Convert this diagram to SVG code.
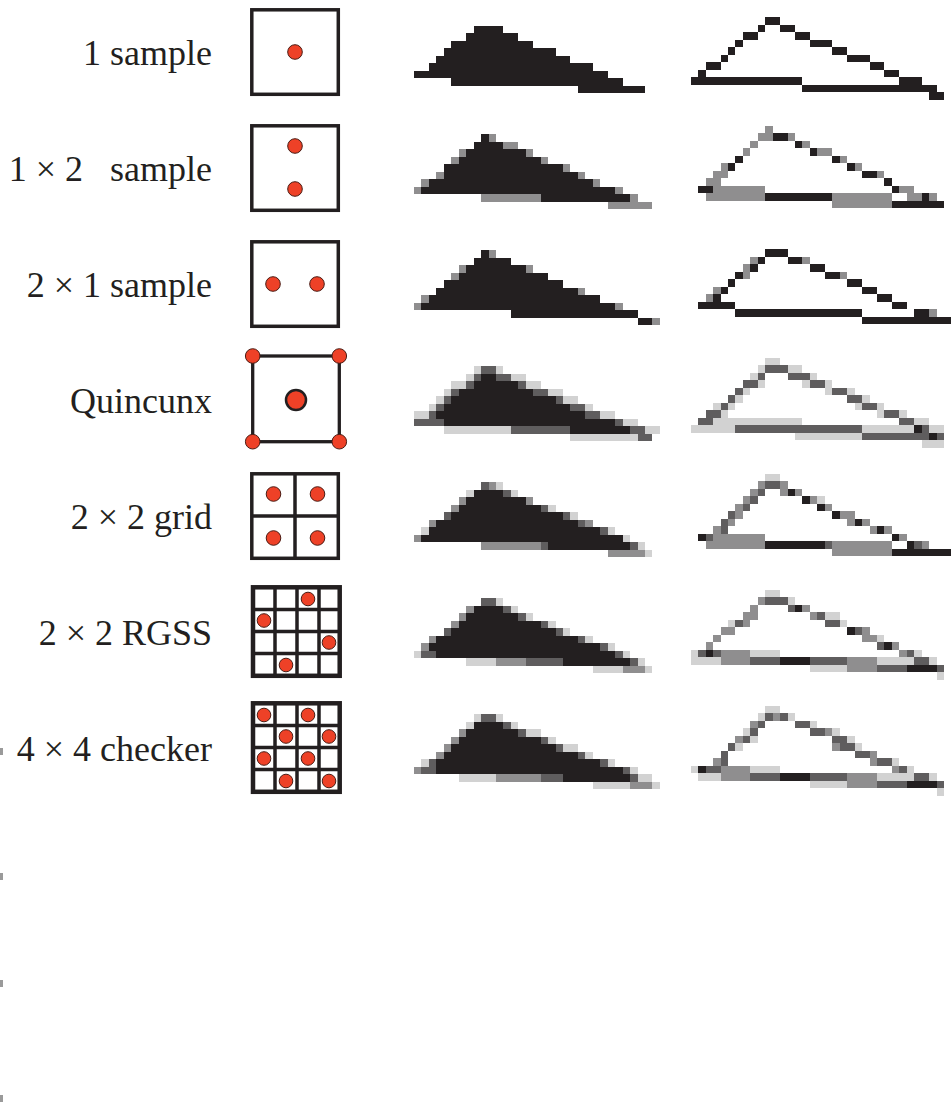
<svg xmlns="http://www.w3.org/2000/svg" width="952" height="1110" viewBox="0 0 952 1110">
<style>
.lbl{font-family:"Liberation Serif","Times New Roman",serif;font-size:36px;fill:#231f20;text-anchor:end}
.box{fill:#fff;stroke:#231f20;stroke-width:3.5}
.thick{stroke-width:4.5}
.gl{stroke:#231f20;stroke-width:3.5;fill:none}
.dot{fill:#ee4127;stroke:#4a1c14;stroke-width:1}
.B{fill:#231f20}.K{fill:#5f5d5e}.M{fill:#8f8e8f}.L{fill:#d2d2d2}
.px{shape-rendering:crispEdges}
.tick{fill:#9a9a9a}
</style>
<rect width="952" height="1110" fill="#fff"/>

<g id="row1">
<text class="lbl" x="212" y="65">1 sample</text>
<rect class="box" x="251.8" y="9.8" width="86.5" height="84.5"/>
<circle class="dot" cx="295" cy="52" r="7.3"/>
<g class="px" transform="translate(414 25.7) scale(7.45 7.5)">
<path class="B" d="M8 0h4v1h-4zM7 1h7v1h-7zM5 2h11v1h-11zM4 3h15v1h-15zM3 4h18v1h-18zM2 5h22v1h-22zM0 6h26v1h-26zM5 7h23v1h-23zM22 8h9v1h-9z"/>
</g>
<g class="px" transform="translate(690.7 17.3) scale(7.45 7.5)">
<path class="B" d="M10 0h2v1h-2zM9 1h1v1h-1zM12 1h2v1h-2zM7 2h2v1h-2zM14 2h2v1h-2zM6 3h1v1h-1zM16 3h3v1h-3zM5 4h1v1h-1zM19 4h2v1h-2zM4 5h1v1h-1zM21 5h3v1h-3zM2 6h2v1h-2zM24 6h2v1h-2zM1 7h1v1h-1zM26 7h2v1h-2zM0 8h15v1h-15zM28 8h3v1h-3zM15 9h18v1h-18zM32 10h2v1h-2z"/>
</g>
</g>

<g id="row2">
<text class="lbl" x="212" y="181" xml:space="preserve">1 × 2   sample</text>
<rect class="box" x="251.8" y="125.8" width="86.5" height="84.5"/>
<circle class="dot" cx="295" cy="146" r="7.3"/>
<circle class="dot" cx="295" cy="189" r="7.3"/>
<g class="px" transform="translate(414 141.7) scale(7.45 7.5)">
<path class="B" d="M9 -1h1v1h-1zM8 0h4v1h-4zM7 1h8v1h-8zM6 2h11v1h-11zM4 3h16v1h-16zM4 4h18v1h-18zM2 5h22v1h-22zM1 6h26v1h-26zM17 7h12v1h-12z"/>
<path class="M" d="M10 -1h1v1h-1zM12 0h2v1h-2zM6 1h1v1h-1zM15 1h1v1h-1zM5 2h1v1h-1zM17 2h1v1h-1zM20 3h1v1h-1zM3 4h1v1h-1zM22 4h1v1h-1zM1 5h1v1h-1zM24 5h1v1h-1zM0 6h1v1h-1zM27 6h1v1h-1zM9 7h8v1h-8zM29 7h1v1h-1zM26 8h6v1h-6z"/>
</g>
<g class="px" transform="translate(690.7 133.3) scale(7.45 7.5)">
<path class="B" d="M11 0h2v1h-2zM14 1h1v1h-1zM16 2h1v1h-1zM6 3h1v1h-1zM19 3h1v1h-1zM5 4h1v1h-1zM21 4h1v1h-1zM23 5h2v1h-2zM26 6h1v1h-1zM1 7h2v1h-2zM27 7h1v1h-1zM10 8h9v1h-9zM31 8h1v1h-1zM27 9h7v1h-7z"/>
<path class="M" d="M10 -1h1v1h-1zM9 0h2v1h-2zM13 0h1v1h-1zM8 1h1v1h-1zM15 1h1v1h-1zM7 2h1v1h-1zM17 2h2v1h-2zM20 3h1v1h-1zM4 4h1v1h-1zM22 4h1v1h-1zM3 5h2v1h-2zM25 5h1v1h-1zM2 6h2v1h-2zM3 7h7v1h-7zM28 7h2v1h-2zM2 8h8v1h-8zM19 8h8v1h-8zM29 8h2v1h-2zM32 8h1v1h-1zM19 9h8v1h-8z"/>
</g>
</g>

<g id="row3">
<text class="lbl" x="212" y="297">2 × 1 sample</text>
<rect class="box" x="251.8" y="241.8" width="86.5" height="84.5"/>
<circle class="dot" cx="273" cy="284" r="7.3"/>
<circle class="dot" cx="317" cy="284" r="7.3"/>
<g class="px" transform="translate(414 257.7) scale(7.45 7.5)">
<path class="B" d="M9 -1h1v1h-1zM8 0h5v1h-5zM7 1h8v1h-8zM6 2h12v1h-12zM4 3h16v1h-16zM3 4h19v1h-19zM2 5h23v1h-23zM1 6h26v1h-26zM13 7h17v1h-17zM30 8h2v1h-2z"/>
<path class="M" d="M10 -1h1v1h-1zM6 1h1v1h-1zM15 1h1v1h-1zM5 2h1v1h-1zM22 4h1v1h-1zM1 5h1v1h-1zM0 6h1v1h-1zM27 6h1v1h-1zM32 8h1v1h-1z"/>
</g>
<g class="px" transform="translate(690.7 249.3) scale(7.45 7.5)">
<path class="B" d="M10 0h3v1h-3zM9 1h1v1h-1zM13 1h2v1h-2zM8 2h1v1h-1zM16 2h2v1h-2zM6 3h1v1h-1zM18 3h2v1h-2zM5 4h1v1h-1zM21 4h2v1h-2zM4 5h1v1h-1zM23 5h2v1h-2zM3 6h1v1h-1zM25 6h2v1h-2zM1 7h5v1h-5zM27 7h2v1h-2zM6 8h17v1h-17zM30 8h2v1h-2zM23 9h12v1h-12z"/>
<path class="M" d="M8 1h1v1h-1zM15 1h1v1h-1zM7 2h1v1h-1zM7 3h1v1h-1zM20 3h1v1h-1zM3 5h1v1h-1zM2 6h1v1h-1zM32 8h1v1h-1z"/>
</g>
</g>

<g id="row4">
<text class="lbl" x="212" y="413">Quincunx</text>
<rect class="box" x="252.7" y="356" width="86.6" height="85.7" style="stroke-width:3.3"/>
<circle class="dot" cx="296" cy="400" r="10" style="stroke:#231f20;stroke-width:2.5"/>
<circle class="dot" cx="252.7" cy="356" r="7.3"/>
<circle class="dot" cx="339.3" cy="356" r="7.3"/>
<circle class="dot" cx="252.7" cy="441.7" r="7.3"/>
<circle class="dot" cx="339.3" cy="441.7" r="7.3"/>
<g class="px" transform="translate(414 373.7) scale(7.45 7.5)">
<path class="B" d="M9 0h2v1h-2zM8 1h6v1h-6zM6 2h10v1h-10zM5 3h14v1h-14zM4 4h17v1h-17zM3 5h20v1h-20zM4 6h23v1h-23zM21 7h8v1h-8z"/>
<path class="K" d="M9 -1h2v1h-2zM8 0h1v1h-1zM11 0h2v1h-2zM7 1h1v1h-1zM14 1h1v1h-1zM5 2h1v1h-1zM16 2h2v1h-2zM4 3h1v1h-1zM19 3h1v1h-1zM3 4h1v1h-1zM21 4h2v1h-2zM2 5h1v1h-1zM23 5h2v1h-2zM0 6h4v1h-4zM27 6h1v1h-1zM13 7h8v1h-8zM29 7h2v1h-2zM30 8h2v1h-2z"/>
<path class="L" d="M8 -1h1v1h-1zM11 -1h1v1h-1zM7 0h1v1h-1zM13 0h2v1h-2zM5 1h2v1h-2zM15 1h2v1h-2zM4 2h1v1h-1zM18 2h2v1h-2zM3 3h1v1h-1zM20 3h2v1h-2zM2 4h1v1h-1zM23 4h1v1h-1zM0 5h2v1h-2zM25 5h2v1h-2zM28 6h2v1h-2zM4 7h9v1h-9zM31 7h2v1h-2zM21 8h9v1h-9z"/>
</g>
<g class="px" transform="translate(690.7 365.3) scale(7.45 7.5)">
<path class="K" d="M10 0h3v1h-3zM9 1h1v1h-1zM13 1h3v1h-3zM7 2h2v1h-2zM16 2h2v1h-2zM6 3h1v1h-1zM19 3h2v1h-2zM5 4h1v1h-1zM21 4h2v1h-2zM4 5h1v1h-1zM23 5h2v1h-2zM2 6h2v1h-2zM26 6h2v1h-2zM1 7h2v1h-2zM28 7h2v1h-2zM6 8h17v1h-17zM31 8h1v1h-1zM23 9h9v1h-9zM33 9h1v1h-1z"/>
<path class="B" d="M30 8h1v1h-1zM32 9h1v1h-1z"/>
<path class="L" d="M10 -1h2v1h-2zM9 0h1v1h-1zM13 0h2v1h-2zM8 1h1v1h-1zM16 1h1v1h-1zM9 2h1v1h-1zM15 2h1v1h-1zM18 2h1v1h-1zM7 3h1v1h-1zM18 3h1v1h-1zM21 3h1v1h-1zM6 4h1v1h-1zM23 4h1v1h-1zM3 5h1v1h-1zM5 5h1v1h-1zM22 5h1v1h-1zM25 5h1v1h-1zM4 6h1v1h-1zM25 6h1v1h-1zM28 6h1v1h-1zM3 7h12v1h-12zM30 7h2v1h-2zM0 8h6v1h-6zM23 8h7v1h-7zM32 8h2v1h-2zM14 9h9v1h-9zM31 10h3v1h-3z"/>
</g>
</g>

<g id="row5">
<text class="lbl" x="212" y="529">2 × 2 grid</text>
<rect class="box" x="251.8" y="473.8" width="86.5" height="84.5"/>
<path class="gl" d="M295 474v84M252 516h86"/>
<circle class="dot" cx="273.5" cy="494" r="7.3"/>
<circle class="dot" cx="317.5" cy="494" r="7.3"/>
<circle class="dot" cx="273.5" cy="538" r="7.3"/>
<circle class="dot" cx="317.5" cy="538" r="7.3"/>
<g class="px" transform="translate(414 489.7) scale(7.45 7.5)">
<path class="B" d="M8 0h4v1h-4zM7 1h8v1h-8zM6 2h11v1h-11zM5 3h15v1h-15zM3 4h19v1h-19zM2 5h23v1h-23zM1 6h27v1h-27zM18 7h11v1h-11z"/>
<path class="K" d="M9 -1h1v1h-1zM12 0h1v1h-1zM17 2h1v1h-1zM4 3h1v1h-1zM20 3h1v1h-1zM22 4h1v1h-1zM25 5h1v1h-1zM17 7h1v1h-1zM29 7h1v1h-1z"/>
<path class="M" d="M10 -1h1v1h-1zM6 1h1v1h-1zM15 1h1v1h-1zM5 2h1v1h-1zM2 4h1v1h-1zM23 4h1v1h-1zM0 6h1v1h-1zM9 7h8v1h-8zM26 8h5v1h-5z"/>
<path class="L" d="M11 -1h1v1h-1zM7 0h1v1h-1zM13 0h1v1h-1zM18 2h1v1h-1zM21 3h1v1h-1zM1 5h1v1h-1zM26 5h1v1h-1zM28 6h1v1h-1zM30 7h1v1h-1zM31 8h1v1h-1z"/>
</g>
<g class="px" transform="translate(690.7 481.3) scale(7.45 7.5)">
<path class="L" d="M10 -1h2v1h-2zM17 2h1v1h-1z"/>
<path class="M" d="M9 0h1v1h-1zM12 0h1v1h-1zM8 1h1v1h-1zM12 1h1v1h-1zM14 1h1v1h-1zM7 2h1v1h-1zM16 2h1v1h-1zM6 3h1v1h-1zM18 3h1v1h-1zM6 4h1v1h-1zM20 4h2v1h-2zM5 5h1v1h-1zM21 5h1v1h-1zM23 5h1v1h-1zM3 6h1v1h-1zM24 6h1v1h-1zM26 6h1v1h-1zM3 7h7v1h-7zM28 7h1v1h-1zM2 8h8v1h-8zM19 8h8v1h-8zM31 8h1v1h-1zM19 9h8v1h-8z"/>
<path class="K" d="M10 0h2v1h-2zM9 1h1v1h-1zM8 2h1v1h-1zM7 3h1v1h-1zM5 4h1v1h-1zM4 5h1v1h-1zM4 6h1v1h-1zM2 7h1v1h-1zM18 8h1v1h-1zM30 8h1v1h-1z"/>
<path class="B" d="M13 1h1v1h-1zM15 2h1v1h-1zM17 3h1v1h-1zM19 4h1v1h-1zM22 5h1v1h-1zM25 6h1v1h-1zM1 7h1v1h-1zM27 7h1v1h-1zM10 8h8v1h-8zM29 8h1v1h-1zM27 9h8v1h-8z"/>
</g>
</g>

<g id="row6">
<text class="lbl" x="212" y="645">2 × 2 RGSS</text>
<rect class="box thick" x="253" y="587.3" width="86.7" height="88.5"/>
<path class="gl" d="M275 588v87M297 588v87M319 588v87M254 609.5h85M254 631.5h85M254 653.5h85"/>
<circle class="dot" cx="308" cy="599" r="6.8"/>
<circle class="dot" cx="264" cy="620.5" r="6.8"/>
<circle class="dot" cx="329" cy="642.5" r="6.8"/>
<circle class="dot" cx="286" cy="665" r="6.8"/>
<g class="px" transform="translate(414 605.7) scale(7.45 7.5)">
<path class="B" d="M8 0h4v1h-4zM7 1h7v1h-7zM6 2h11v1h-11zM5 3h14v1h-14zM3 4h19v1h-19zM2 5h23v1h-23zM3 6h24v1h-24zM20 7h9v1h-9z"/>
<path class="K" d="M9 -1h2v1h-2zM12 0h1v1h-1zM14 1h1v1h-1zM17 2h1v1h-1zM4 3h1v1h-1zM19 3h1v1h-1zM22 4h1v1h-1zM25 5h1v1h-1zM1 6h2v1h-2zM27 6h1v1h-1zM15 7h5v1h-5zM29 7h1v1h-1z"/>
<path class="M" d="M7 0h1v1h-1zM6 1h1v1h-1zM5 2h1v1h-1zM2 4h1v1h-1zM1 5h1v1h-1zM11 7h4v1h-4zM28 8h3v1h-3z"/>
<path class="L" d="M11 -1h1v1h-1zM13 0h1v1h-1zM15 1h1v1h-1zM18 2h1v1h-1zM20 3h1v1h-1zM23 4h1v1h-1zM26 5h1v1h-1zM0 6h1v1h-1zM28 6h1v1h-1zM7 7h4v1h-4zM30 7h1v1h-1zM24 8h4v1h-4zM31 8h1v1h-1z"/>
</g>
<g class="px" transform="translate(690.7 597.3) scale(7.45 7.5)">
<path class="L" d="M10 -1h2v1h-2zM13 0h1v1h-1zM18 2h2v1h-2zM5 3h1v1h-1zM20 3h1v1h-1zM25 5h1v1h-1zM0 7h1v1h-1zM8 7h4v1h-4zM30 7h1v1h-1zM0 8h4v1h-4zM25 8h5v1h-5zM32 8h1v1h-1zM16 9h5v1h-5zM33 10h1v1h-1z"/>
<path class="M" d="M9 0h1v1h-1zM8 1h1v1h-1zM15 1h1v1h-1zM7 2h2v1h-2zM16 2h1v1h-1zM7 3h1v1h-1zM4 4h2v1h-2zM23 4h1v1h-1zM3 5h1v1h-1zM23 5h2v1h-2zM2 6h1v1h-1zM27 6h1v1h-1zM4 7h4v1h-4zM28 7h1v1h-1zM4 8h4v1h-4zM21 8h4v1h-4zM21 9h4v1h-4z"/>
<path class="K" d="M10 0h3v1h-3zM13 1h1v1h-1zM17 2h1v1h-1zM6 3h1v1h-1zM18 3h2v1h-2zM22 4h1v1h-1zM25 6h1v1h-1zM1 7h1v1h-1zM3 7h1v1h-1zM29 7h1v1h-1zM8 8h4v1h-4zM16 8h5v1h-5zM30 8h2v1h-2zM25 9h4v1h-4zM33 9h1v1h-1z"/>
<path class="B" d="M14 1h1v1h-1zM21 4h1v1h-1zM26 6h1v1h-1zM2 7h1v1h-1zM12 8h4v1h-4zM29 9h4v1h-4z"/>
</g>
</g>

<g id="row7">
<text class="lbl" x="212" y="761">4 × 4 checker</text>
<rect class="box thick" x="253" y="703.3" width="86.7" height="88.5"/>
<path class="gl" d="M275 704v87M297 704v87M319 704v87M254 725.5h85M254 747.5h85M254 769.5h85"/>
<circle class="dot" cx="264" cy="715" r="6.8"/>
<circle class="dot" cx="308" cy="715" r="6.8"/>
<circle class="dot" cx="286" cy="736.5" r="6.8"/>
<circle class="dot" cx="329" cy="736.5" r="6.8"/>
<circle class="dot" cx="264" cy="758.5" r="6.8"/>
<circle class="dot" cx="308" cy="758.5" r="6.8"/>
<circle class="dot" cx="286" cy="781" r="6.8"/>
<circle class="dot" cx="329" cy="781" r="6.8"/>
<g class="px" transform="translate(414 721.7) scale(7.45 7.5)">
<path class="B" d="M8 0h4v1h-4zM7 1h7v1h-7zM6 2h11v1h-11zM5 3h14v1h-14zM4 4h18v1h-18zM3 5h22v1h-22zM3 6h25v1h-25zM20 7h9v1h-9z"/>
<path class="K" d="M9 -1h2v1h-2zM12 0h1v1h-1zM14 1h1v1h-1zM17 2h1v1h-1zM19 3h1v1h-1zM22 4h1v1h-1zM2 5h1v1h-1zM25 5h1v1h-1zM1 6h2v1h-2zM28 6h1v1h-1zM17 7h3v1h-3zM29 7h1v1h-1z"/>
<path class="M" d="M6 1h1v1h-1zM5 2h1v1h-1zM4 3h1v1h-1zM3 4h1v1h-1zM0 6h1v1h-1zM11 7h6v1h-6zM29 8h3v1h-3z"/>
<path class="L" d="M8 -1h1v1h-1zM11 -1h1v1h-1zM7 0h1v1h-1zM13 0h1v1h-1zM15 1h2v1h-2zM18 2h1v1h-1zM20 3h2v1h-2zM23 4h1v1h-1zM1 5h1v1h-1zM26 5h1v1h-1zM29 6h1v1h-1zM6 7h5v1h-5zM30 7h2v1h-2zM24 8h5v1h-5zM32 8h1v1h-1z"/>
</g>
<g class="px" transform="translate(690.7 713.3) scale(7.45 7.5)">
<path class="L" d="M10 -1h2v1h-2zM9 0h1v1h-1zM13 0h1v1h-1zM16 1h1v1h-1zM7 2h1v1h-1zM19 2h1v1h-1zM8 3h1v1h-1zM21 3h1v1h-1zM6 4h1v1h-1zM22 4h1v1h-1zM27 6h1v1h-1zM0 7h1v1h-1zM8 7h4v1h-4zM29 7h1v1h-1zM1 8h3v1h-3zM25 8h5v1h-5zM32 8h1v1h-1zM16 9h5v1h-5zM33 10h1v1h-1z"/>
<path class="K" d="M10 0h1v1h-1zM12 0h1v1h-1zM9 1h1v1h-1zM14 1h2v1h-2zM8 2h1v1h-1zM16 2h2v1h-2zM7 3h1v1h-1zM19 3h2v1h-2zM5 4h1v1h-1zM20 4h2v1h-2zM4 5h1v1h-1zM22 5h2v1h-2zM4 6h1v1h-1zM25 6h2v1h-2zM2 7h2v1h-2zM28 7h1v1h-1zM8 8h4v1h-4zM16 8h5v1h-5zM30 8h2v1h-2zM25 9h4v1h-4zM33 9h1v1h-1z"/>
<path class="M" d="M11 0h1v1h-1zM8 1h1v1h-1zM18 2h1v1h-1zM6 3h1v1h-1zM19 4h1v1h-1zM24 5h1v1h-1zM3 6h1v1h-1zM24 6h1v1h-1zM4 7h4v1h-4zM27 7h1v1h-1zM4 8h4v1h-4zM21 8h4v1h-4zM21 9h4v1h-4z"/>
<path class="B" d="M1 7h1v1h-1zM12 8h4v1h-4zM29 9h4v1h-4z"/>
</g>
</g>

<g id="edge-ticks">
<rect class="tick" x="0" y="748" width="3" height="7"/>
<rect class="tick" x="0" y="873" width="3" height="7"/>
<rect class="tick" x="0" y="980" width="3" height="7"/>
<rect class="tick" x="0" y="1095" width="3" height="7"/>
</g>
<g id="connectors"/>
</svg>
